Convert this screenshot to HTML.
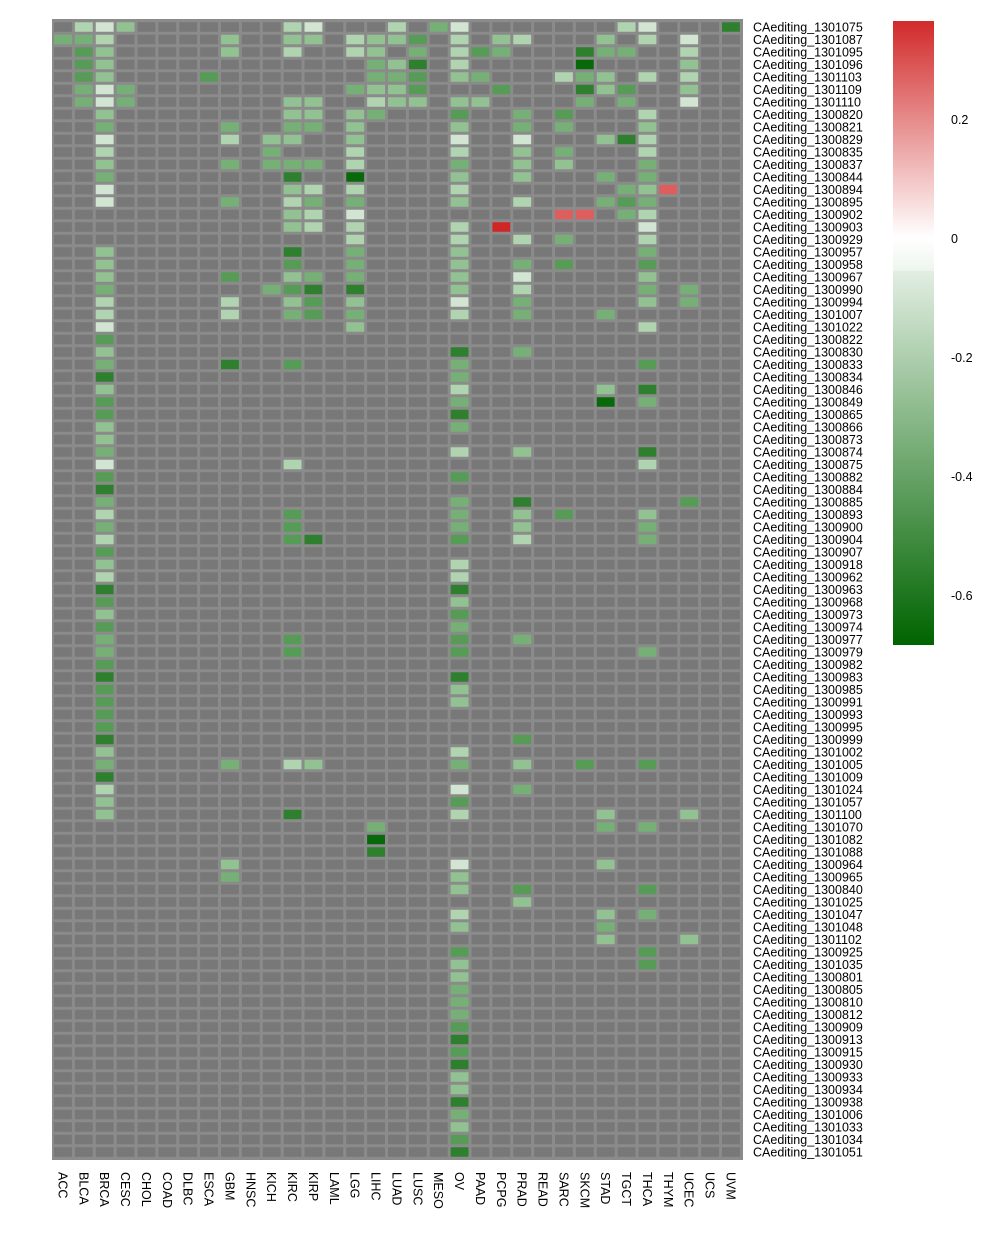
<!DOCTYPE html>
<html><head><meta charset="utf-8"><style>
html,body{margin:0;padding:0;background:#fff;}
svg text{font-family:"Liberation Sans",Arial,sans-serif;font-size:12.5px;fill:#000;}
</style></head><body>
<svg id="s" width="1003" height="1236" xmlns="http://www.w3.org/2000/svg">
<defs>
<linearGradient id="lg" x1="0" y1="0" x2="0" y2="1">
<stop offset="0" stop-color="#d22a2a"/>
<stop offset="0.348" stop-color="#ffffff"/>
<stop offset="0.40" stop-color="#eef5ee"/>
<stop offset="0.401" stop-color="#e2eee2"/>
<stop offset="1" stop-color="#006400"/>
</linearGradient>
</defs>
<rect x="52" y="19" width="691" height="1141" fill="#8b8b8b"/>
<g id="cells"></g>
<g id="rl"></g>
<g id="cl"></g>
<rect x="893" y="21" width="41" height="624" fill="url(#lg)"/>
<text x="951" y="124">0.2</text>
<text x="951" y="243">0</text>
<text x="951" y="362">-0.2</text>
<text x="951" y="481">-0.4</text>
<text x="951" y="600">-0.6</text>
</svg>
<script>
var cols="ACC BLCA BRCA CESC CHOL COAD DLBC ESCA GBM HNSC KICH KIRC KIRP LAML LGG LIHC LUAD LUSC MESO OV PAAD PCPG PRAD READ SARC SKCM STAD TGCT THCA THYM UCEC UCS UVM".split(" ");
var rows="1301075 1301087 1301095 1301096 1301103 1301109 1301110 1300820 1300821 1300829 1300835 1300837 1300844 1300894 1300895 1300902 1300903 1300929 1300957 1300958 1300967 1300990 1300994 1301007 1301022 1300822 1300830 1300833 1300834 1300846 1300849 1300865 1300866 1300873 1300874 1300875 1300882 1300884 1300885 1300893 1300900 1300904 1300907 1300918 1300962 1300963 1300968 1300973 1300974 1300977 1300979 1300982 1300983 1300985 1300991 1300993 1300995 1300999 1301002 1301005 1301009 1301024 1301057 1301100 1301070 1301082 1301088 1300964 1300965 1300840 1301025 1301047 1301048 1301102 1300925 1301035 1300801 1300805 1300810 1300812 1300909 1300913 1300915 1300930 1300933 1300934 1300938 1301006 1301033 1301034 1301051".split(" ");
var D=[
"1b 2a 3c 11b 12a 16b 18d 19a 27b 28a 32f",
"0d 1d 2b 8c 11c 12c 14b 15c 16c 17e 19b 21c 22b 26c 28b 30a",
"1e 2c 8c 11b 14b 15c 17d 19b 20e 21d 25f 26d 27d 30b",
"1e 2c 15d 16c 17f 19b 25g 30c",
"1e 2c 7e 15d 16d 17e 19c 20d 24b 25d 26c 28b 30b",
"1d 2a 3d 14d 15c 16c 17e 21e 25f 26c 27e 30c",
"1d 2a 3d 11c 12c 15b 16c 17c 19c 20c 25d 27d 30a",
"2c 11c 12c 14c 15d 19e 22d 24e 28b",
"2d 8d 11d 12d 14c 19c 22d 24d 28c",
"2a 8b 10c 11c 14c 19a 22a 26c 27f 28b",
"2b 10d 14b 19b 22c 24d 28b",
"2c 8d 10d 11d 12d 14b 19d 22c 24c 28d",
"2d 11f 14g 19c 22c 26d 28d",
"2a 11c 12b 14b 19b 27d 28c 29r",
"2a 8d 11b 12d 14d 19c 22b 26d 27e 28d",
"11c 12b 14a 24r 25r 27d 28b",
"11c 12b 14b 19b 21R 28a",
"14b 19b 22b 24d 28b",
"2c 11f 14d 19c 28d",
"2c 11e 14d 19c 22d 24e 28e",
"2c 8e 11c 12d 14d 19c 22a 28c",
"2d 10d 11e 12f 14f 19c 22b 28d 30d",
"2b 8b 11c 12e 14c 19a 22d 28c 30d",
"2b 8b 11d 12e 14d 19b 22d 26d",
"2a 14c 28b",
"2e",
"2c 19f 22d",
"2d 8f 11e 19d 28e",
"2f 19d",
"2c 19b 26c 28f",
"2e 19d 26g 28d",
"2e 19f",
"2c 19d",
"2c",
"2d 19b 22c 28f",
"2a 11b 28b",
"2e 19e",
"2f",
"2d 19d 22f 30e",
"2b 11e 19d 22c 24e 28c",
"2d 11e 19d 22c 28d",
"2b 11e 12f 19e 22b 28d",
"2e",
"2c 19b",
"2b 19b",
"2f 19f",
"2e 19c",
"2c 19e",
"2e 19d",
"2d 11e 19e 22d",
"2d 11e 19e 28d",
"2e",
"2f 19f",
"2e 19c",
"2e 19c",
"2e",
"2e",
"2f 22e",
"2c 19b",
"2d 8d 11b 12c 19d 22c 25e 28e",
"2f",
"2b 19a 22d",
"2c 19e",
"2c 11f 19b 26c 30c",
"15d 26d 28d",
"15g",
"15f",
"8c 19a 26c",
"8d 19c",
"19c 22e 28e",
"22c",
"19b 26c 28d",
"19c 26d",
"26c 30c",
"19e 28e",
"19c 28e",
"19c","19d","19d","19d","19e","19f","19e","19f","19c","19c","19f","19d","19c","19e","19f"
];
var C={a:"#d2e5d2",b:"#b0d3b0",c:"#92c192",d:"#76b076",e:"#569c56",f:"#2e7f2e",g:"#07690a",r:"#de5e5e",R:"#d02626"};
var x0=52.5,cw=20.875,y0=20.75,rh=12.5;
var h="";
var map={};
D.forEach(function(s,r){s.split(" ").forEach(function(t){if(t)map[r+"_"+parseInt(t)]=t.replace(/[0-9]/g,"");});});
for(var r=0;r<91;r++){for(var c=0;c<33;c++){var k=map[r+"_"+c];var f=k?C[k]:"#787878";
h+='<rect x="'+(x0+c*cw+1.5).toFixed(2)+'" y="'+(y0+r*rh+1.5).toFixed(2)+'" width="'+(cw-3).toFixed(2)+'" height="'+(rh-3)+'" fill="'+f+'"/>';}}
document.getElementById("cells").innerHTML=h;
var t="";
rows.forEach(function(n,i){t+='<text x="753" y="'+(y0+i*rh+rh/2+4.5).toFixed(2)+'">CAediting_'+n+'</text>';});
document.getElementById("rl").innerHTML=t;
var u="";
cols.forEach(function(n,i){var x=x0+i*cw+cw/2-4.5;u+='<text transform="translate('+x.toFixed(2)+',1172) rotate(90)">'+n+'</text>';});
document.getElementById("cl").innerHTML=u;
</script>
</body></html>
